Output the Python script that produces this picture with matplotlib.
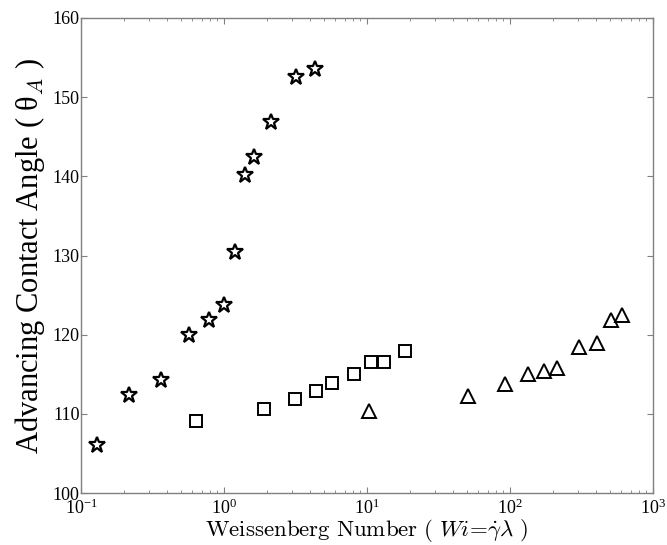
import numpy as np
import matplotlib
matplotlib.use("Agg")
import matplotlib.pyplot as plt

# star series
wi_star = [0.13, 0.216, 0.36, 0.57, 0.78, 1.0, 1.2, 1.41, 1.63, 2.14, 3.2, 4.3]
th_star = [106.1, 112.4, 114.3, 120.0, 121.8, 123.7, 130.5, 140.2, 142.4, 146.9, 152.6, 153.5]

# square series
wi_sq = [0.64, 1.9, 3.15, 4.4, 5.65, 8.1, 10.7, 13.2, 18.5]
th_sq = [109.1, 110.6, 111.9, 112.9, 113.9, 115.0, 116.6, 116.6, 118.0]

# triangle series
wi_tri = [10.4, 51, 92, 133, 172, 213, 305, 405, 505, 605]
th_tri = [110.4, 112.3, 113.8, 115.0, 115.4, 115.8, 118.5, 119.0, 121.9, 122.5]

plt.rcParams['font.family'] = ['Liberation Serif', 'DejaVu Serif']
plt.rcParams['mathtext.fontset'] = 'cm'

fig = plt.figure(figsize=(6.67, 5.45), dpi=100)
ax = fig.add_axes([81/667, 1 - 493/545, (653-81)/667, (493-18)/545])

ax.plot(wi_star, th_star, ls='none', marker='*', ms=12, mfc='white', mec='black', mew=1.6)
ax.plot(wi_sq, th_sq, ls='none', marker='s', ms=8.5, mfc='white', mec='black', mew=1.4)
ax.plot(wi_tri, th_tri, ls='none', marker='^', ms=10, mfc='white', mec='black', mew=1.4)

ax.set_xscale('log')
ax.set_xlim(0.1, 1000)
ax.set_ylim(100, 160)
ax.set_yticks(np.arange(100, 161, 10))

for s in ax.spines.values():
    s.set_color('#808080')
    s.set_linewidth(1.0)
ax.tick_params(which='both', direction='in', top=True, right=True, color='#808080',
               labelsize=13)
ax.tick_params(axis='x', pad=4)
ax.tick_params(axis='y', pad=1)
ax.tick_params(which='major', length=4)
ax.tick_params(which='minor', length=2.5)

ax.set_xlabel(r'$\mathrm{Weissenberg\ Number\ (\ }Wi\!=\!\dot{\gamma}\lambda\mathrm{\ )}$',
              fontsize=16.5, labelpad=-1)
ax.set_ylabel('Advancing Contact Angle ( θ$_{A}$ )', fontsize=22, labelpad=4)

fig.savefig('out.png', dpi=100)
